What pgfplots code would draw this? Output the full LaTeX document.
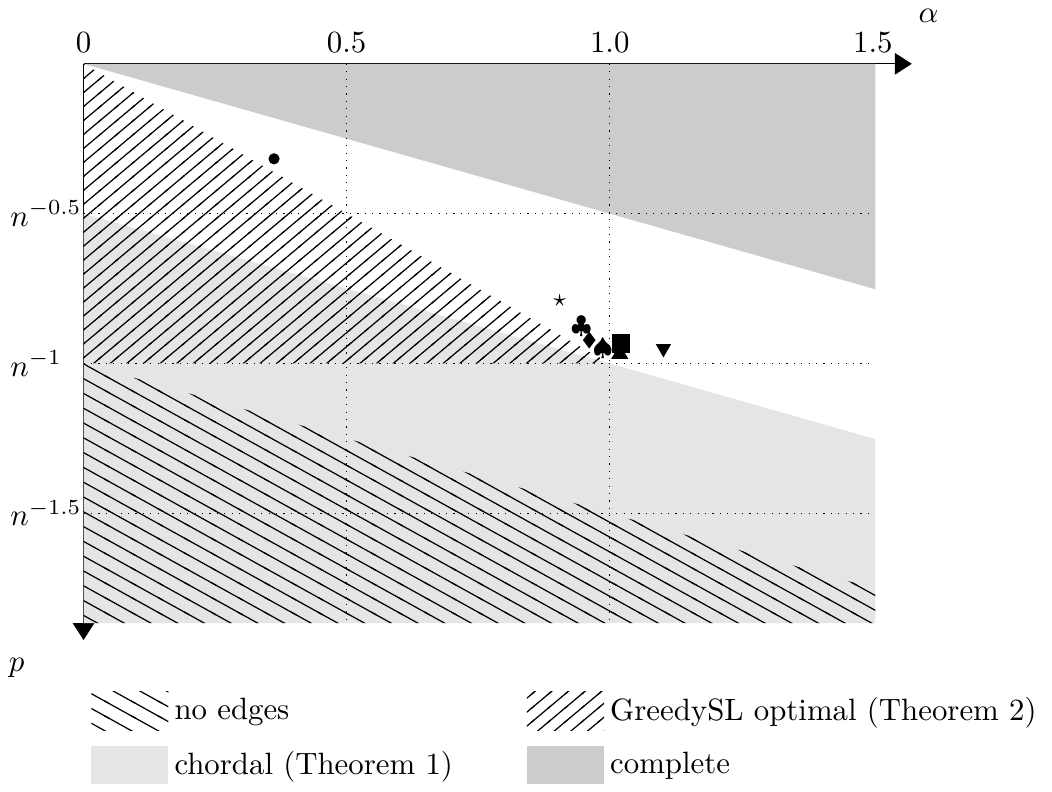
\documentclass[border=0pt]{standalone}
\usepackage{amssymb}
\usepackage{pgfplots}
\pgfplotsset{compat=1.18}
\usetikzlibrary{arrows.meta,patterns}

% hatch tiles: lines at about 40 deg (GreedySL) and -29 deg (no edges)
\pgfdeclarepatternformonly{nelines}{\pgfpoint{-0.6pt}{-0.5pt}}{\pgfpoint{6pt}{5.03pt}}{\pgfpoint{5.40pt}{4.53pt}}{
  \pgfsetlinewidth{0.4pt}
  \pgfpathmoveto{\pgfpoint{-0.54pt}{-0.453pt}}
  \pgfpathlineto{\pgfpoint{5.94pt}{4.983pt}}
  \pgfusepathqstroke
}
\pgfdeclarepatternformonly{nwlines}{\pgfpoint{-0.9pt}{-0.5pt}}{\pgfpoint{9.6pt}{5.3pt}}{\pgfpoint{8.66pt}{4.80pt}}{
  \pgfsetlinewidth{0.4pt}
  \pgfpathmoveto{\pgfpoint{-0.866pt}{5.28pt}}
  \pgfpathlineto{\pgfpoint{9.526pt}{-0.48pt}}
  \pgfusepathqstroke
}

% y is log_n(p)
\pgfplotsset{phase/.style={
  x=170.7pt, y=97.2pt,
  xmin=0, xmax=1.574, ymin=-1.923, ymax=0,
  clip=false,
}}

\begin{document}
\begin{tikzpicture}
\begin{axis}[
  phase,
  axis x line=top, axis y line=left,
  x axis line style={-{Triangle[width=7pt,length=5.5pt]}},
  y axis line style={{Triangle[width=7pt,length=5.5pt]}-},
  xtick={0,0.5,1,1.5}, xticklabels={0,0.5,1.0,1.5},
  ytick={-1.5,-1,-0.5}, yticklabels={$n^{-1.5}$,$n^{-1}$,$n^{-0.5}$},
  yticklabel style={anchor=west, xshift=-27.3pt},
  major tick length=0pt,
  legend columns=2,
  legend cell align=left,
  legend image code/.code={\fill[#1] (0pt,-6.25pt) rectangle (25pt,6.25pt);},
  legend style={at={(axis cs:-0.004,-2.07)}, anchor=north west, draw=none, fill=none,
    /tikz/every even column/.append style={column sep=22pt},
    /tikz/row sep=4.5pt},
]
% regions
\addplot[fill=black!20, draw=none, forget plot] coordinates {(0,0) (1.505,0) (1.505,-0.7525)};
\addplot[fill=black!10, draw=none, forget plot] coordinates {(0,-0.5) (1.505,-1.2525) (1.505,-1.867) (0,-1.867)};
\addplot[pattern=nelines, draw=none, forget plot] coordinates {(0,0) (1,-1) (0,-1)};
% points
\addplot[only marks, mark=*, mark size=1.6pt, forget plot] coordinates {(0.362,-0.317)};
\addplot[only marks, mark=text, text mark={\footnotesize$\star$}, forget plot] coordinates {(0.905,-0.79)};
\addplot[only marks, mark=text, text mark={\footnotesize$\clubsuit$}, forget plot] coordinates {(0.946,-0.878)};
\addplot[only marks, mark=diamond*, mark size=2.4pt, forget plot] coordinates {(0.961,-0.922)};
\addplot[only marks, mark=text, text mark={\footnotesize$\spadesuit$}, forget plot] coordinates {(0.987,-0.95)};
\addplot[only marks, mark=square*, mark size=2.8pt, forget plot] coordinates {(1.021,-0.933)};
\addplot[only marks, mark=triangle*, mark size=2.8pt, forget plot] coordinates {(1.019,-0.968)};
\addplot[only marks, mark=triangle*, mark options={rotate=180}, mark size=2.5pt, forget plot] coordinates {(1.102,-0.95)};
% legend
\addlegendimage{pattern=nwlines, draw=none}
\addlegendentry{no edges}
\addlegendimage{pattern=nelines, draw=none}
\addlegendentry{GreedySL optimal (Theorem 2)}
\addlegendimage{fill=black!10, draw=none}
\addlegendentry{chordal (Theorem 1)}
\addlegendimage{fill=black!20, draw=none}
\addlegendentry{complete}
\node[inner sep=3pt] at (axis cs:1.606,0.16) {$\alpha$};
\node[inner sep=0pt] at (axis cs:-0.127,-2.017) {$p$};
\end{axis}
% second layer: no-edges hatch and the dotted grid
\begin{axis}[phase, hide axis]
\addplot[pattern=nwlines, draw=none] coordinates {(0,-1) (1.505,-1.7525) (1.505,-1.867) (0,-1.867)};
\addplot[dotted] coordinates {(0,-0.5) (1.495,-0.5)};
\addplot[dotted] coordinates {(0,-1) (1.495,-1)};
\addplot[dotted] coordinates {(0,-1.5) (1.495,-1.5)};
\addplot[dotted] coordinates {(0.5,0) (0.5,-1.867)};
\addplot[dotted] coordinates {(1,0) (1,-1.867)};
\end{axis}
\end{tikzpicture}
\end{document}
